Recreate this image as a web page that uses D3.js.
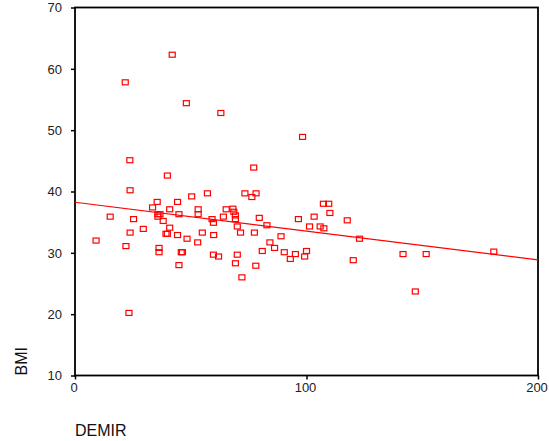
<!DOCTYPE html>
<html>
<head>
<meta charset="utf-8">
<script src="https://cdn.jsdelivr.net/npm/d3@7"></script>
<style>
  body { margin: 0; background: #fff; }
  svg { display: block; font-family: "Liberation Sans", Arial, sans-serif; }
</style>
</head>
<body>
<div id="chart"></div>
<script>
// Scatter of BMI against DEMIR with linear fit
const demir = [42.0, 21.7, 48.1, 63.0, 98.3, 23.7, 77.2, 39.9, 23.8, 57.2,
  73.4, 78.2, 50.4, 76.4, 35.5, 44.3, 107.3, 109.6, 33.5, 40.9,
  53.2, 65.3, 68.2, 68.6, 110.1, 35.8, 36.7, 35.8, 44.9, 53.2,
  69.3, 15.2, 64.1, 103.3, 25.3, 59.2, 69.3, 79.6, 96.5, 117.6,
  38.1, 59.8, 82.9, 70.1, 101.3, 105.9, 107.5, 29.5, 40.9, 23.8,
  39.3, 39.9, 55.0, 71.5, 77.5, 44.3, 59.9, 89.0, 48.4, 122.9,
  53.0, 84.2, 9.1, 22.0, 36.3, 86.2, 36.3, 45.9, 46.4, 80.9,
  90.4, 100.0, 141.7, 151.7, 180.9, 59.8, 70.1, 95.2, 62.0, 99.2,
  93.0, 120.2, 69.3, 44.9, 78.1, 72.1, 147.0, 23.3];
const bmi = [62.3, 57.8, 54.4, 52.8, 48.9, 45.1, 43.9, 42.6, 40.2, 39.7,
  39.7, 39.7, 39.2, 39.1, 38.3, 38.3, 38.0, 38.0, 37.4, 37.1,
  37.1, 37.1, 37.2, 36.7, 36.5, 36.3, 36.3, 35.9, 36.3, 36.3,
  36.1, 35.9, 35.9, 35.9, 35.5, 35.5, 35.5, 35.7, 35.5, 35.3,
  35.2, 34.9, 34.5, 34.3, 34.3, 34.3, 34.0, 33.9, 34.1, 33.3,
  33.1, 33.1, 33.3, 33.3, 33.3, 32.9, 32.9, 32.7, 32.3, 32.3,
  31.7, 31.7, 32.0, 31.1, 30.8, 30.8, 30.1, 30.1, 30.1, 30.3,
  30.1, 30.3, 29.8, 29.8, 30.2, 29.7, 29.7, 29.8, 29.4, 29.4,
  29.0, 28.8, 28.3, 28.0, 27.9, 26.0, 23.7, 20.2];
const fitX = [0, 200];
const fitY = [38.25, 28.85];
const xTicks = [0, 100, 200];
const yTicks = [10, 20, 30, 40, 50, 60, 70];

const width = 549, height = 441;
const plot = {left: 75, right: 538, top: 7.5, bottom: 375.5};

const svg = d3.select("#chart").append("svg")
    .attr("width", width)
    .attr("height", height);

const x = d3.scaleLinear().domain([0, 200]).range([plot.left, plot.right]);
const y = d3.scaleLinear().domain([10, 70]).range([plot.bottom, plot.top]);

// Axes
const xAxis = svg.append("g")
    .attr("transform", `translate(0,${plot.bottom})`)
    .call(d3.axisBottom(x).tickValues(xTicks).tickSize(4).tickPadding(3));
const yAxis = svg.append("g")
    .attr("transform", `translate(${plot.left},0)`)
    .call(d3.axisLeft(y).tickValues(yTicks).tickSize(4).tickPadding(9));
[xAxis, yAxis].forEach(g => {
    g.select(".domain").remove();
    g.selectAll("line").attr("stroke", "#000").attr("stroke-width", 1.5);
    g.selectAll("text").attr("fill", "#222").style("font-size", "13px")
        .style("font-family", "'Liberation Sans', Arial, sans-serif");
});
xAxis.selectAll("text").attr("dx", -1.5);

// Frame
svg.append("rect")
    .attr("x", plot.left).attr("y", plot.top)
    .attr("width", plot.right - plot.left).attr("height", plot.bottom - plot.top)
    .attr("fill", "none")
    .attr("stroke", "#000")
    .attr("stroke-width", 1.8);

// Fit line
svg.append("line")
    .attr("x1", x(fitX[0])).attr("y1", y(fitY[0]))
    .attr("x2", x(fitX[1])).attr("y2", y(fitY[1]))
    .attr("stroke", "#ff0000")
    .attr("stroke-width", 1.2);

// Points
svg.selectAll(".pt")
    .data(d3.range(demir.length))
    .enter()
    .append("rect")
    .attr("class", "pt")
    .attr("x", i => x(demir[i]) - 3)
    .attr("y", i => y(bmi[i]) - 2.5)
    .attr("width", 6)
    .attr("height", 5)
    .attr("fill", "none")
    .attr("stroke", "#ff0000")
    .attr("stroke-width", 1.2);

// Axis titles
svg.append("text")
    .attr("x", plot.left)
    .attr("y", 436)
    .style("font-size", "16px")
    .attr("fill", "#111")
    .text("DEMIR");

svg.append("text")
    .attr("transform", `translate(26.5,${plot.bottom}) rotate(-90)`)
    .style("font-size", "16px")
    .attr("fill", "#111")
    .text("BMI");
</script>
</body>
</html>
